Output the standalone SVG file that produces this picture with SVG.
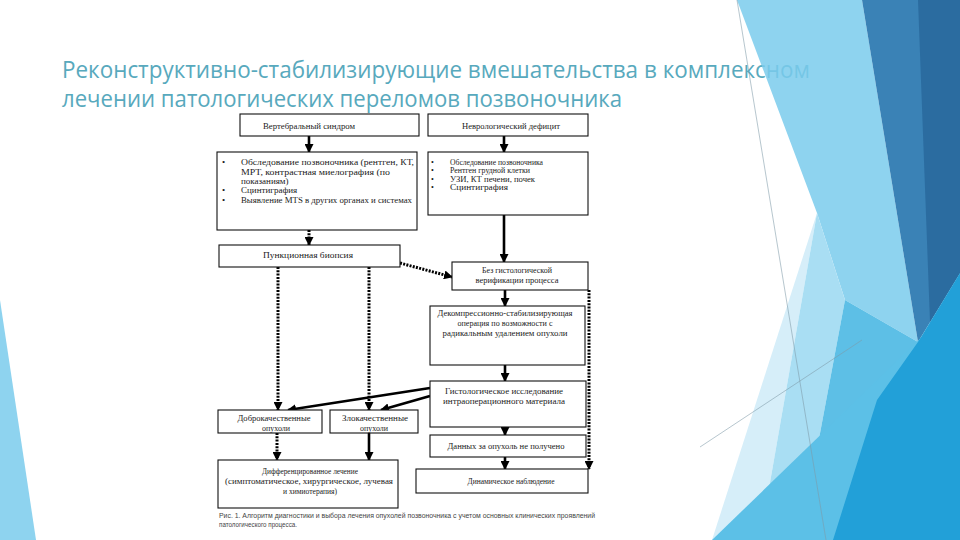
<svg xmlns="http://www.w3.org/2000/svg" width="960" height="540" viewBox="0 0 960 540">
<defs>
<style>
.title{font-family:"Open Sans","Noto Sans",sans-serif;font-size:23px;fill:#58a9bd}
.box{fill:#fff;stroke:#111;stroke-width:1.1}
.t{font-family:"Liberation Serif",serif;font-size:9px;fill:#1a1a1a;text-anchor:middle}
.l{font-family:"Liberation Serif",serif;font-size:9px;fill:#1a1a1a}
.s{fill:none;stroke:#000;stroke-width:2.6}
.d{fill:none;stroke:#000;stroke-width:3;stroke-dasharray:2 1.3}
.cap{font-family:"Liberation Sans",Arial,sans-serif;font-size:7px;fill:#444}
</style>
<marker id="ah" markerWidth="9" markerHeight="9" refX="8" refY="4.5" orient="auto" markerUnits="userSpaceOnUse">
<path d="M0,0 L9,4.5 L0,9 z" fill="#000"/>
</marker>
</defs>
<rect width="960" height="540" fill="#fff"/>
<g id="title">
<text class="title" x="62" y="78" textLength="748" lengthAdjust="spacingAndGlyphs">Реконструктивно-стабилизирующие вмешательства в комплексном</text>
<text class="title" x="62" y="107" textLength="560" lengthAdjust="spacingAndGlyphs">лечении патологических переломов позвоночника</text>
</g>
<g id="background">
<polygon points="0,300 36,540 0,540" fill="#8ed3ef"/>
<polygon points="737,0 862,0 918,342 845,300 817,213" fill="#7acbec" opacity="0.85"/>
<polygon points="817,213 760,540 712,540" fill="#d6eef9"/>
<polygon points="817,213 845,300 800,540 760,540" fill="#a9def3"/>
<polygon points="845,300 918,342 877,400 830,540 800,540" fill="#5dbfe6"/>
<polygon points="862,0 960,0 960,273 918,342" fill="#3a82b6"/>
<polygon points="918,0 960,0 960,273 930,322" fill="#2b6ca0"/>
<polygon points="960,300 960,540 712,540" fill="#5cc0e7"/>
<polygon points="877,400 918,342 960,273 960,540 833,540" fill="#22a0d8"/>
<line x1="737" y1="0" x2="826" y2="540" stroke="#7f9aa8" stroke-width="0.8" opacity="0.7"/>
<line x1="700" y1="447" x2="862" y2="340" stroke="#7f9aa8" stroke-width="0.8" opacity="0.7"/>
</g>
<g id="connectors">
<line class="s" x1="309" y1="136" x2="309" y2="152" marker-end="url(#ah)"/>
<line class="s" x1="504" y1="136" x2="504" y2="152" marker-end="url(#ah)"/>
<line class="d" x1="309" y1="230" x2="309" y2="245" marker-end="url(#ah)"/>
<line class="s" x1="504" y1="215" x2="504" y2="262" marker-end="url(#ah)"/>
<line class="d" x1="400" y1="263" x2="452" y2="277" marker-end="url(#ah)"/>
<line class="d" x1="278" y1="267" x2="278" y2="410" marker-end="url(#ah)"/>
<line class="d" x1="369" y1="267" x2="369" y2="410" marker-end="url(#ah)"/>
<line class="s" x1="505" y1="290" x2="505" y2="306" marker-end="url(#ah)"/>
<line class="d" x1="589" y1="290" x2="589" y2="469" marker-end="url(#ah)"/>
<line class="s" x1="505" y1="365" x2="505" y2="381" marker-end="url(#ah)"/>
<line class="s" x1="430" y1="388" x2="288" y2="410" marker-end="url(#ah)"/>
<line class="s" x1="430" y1="396" x2="381" y2="410" marker-end="url(#ah)"/>
<line class="s" x1="505" y1="427" x2="505" y2="435" marker-end="url(#ah)"/>
<line class="s" x1="505" y1="457" x2="505" y2="469" marker-end="url(#ah)"/>
<line class="d" x1="277" y1="433" x2="277" y2="460" marker-end="url(#ah)"/>
<line class="s" x1="369" y1="433" x2="369" y2="460" marker-end="url(#ah)"/>
</g>
<g id="n-vert">
<rect class="box" x="240" y="114" width="179" height="22"/>
<text class="t" x="309" y="129" textLength="92" lengthAdjust="spacingAndGlyphs">Вертебральный синдром</text>
</g>
<g id="n-nevr">
<rect class="box" x="428" y="114" width="160" height="22"/>
<text class="t" x="511" y="129" textLength="98" lengthAdjust="spacingAndGlyphs">Неврологический дефицит</text>
</g>
<g id="n-list1">
<rect class="box" x="217" y="152" width="200" height="78"/>
<text class="l" x="222" y="165">•</text>
<text class="l" x="241" y="165" textLength="173" lengthAdjust="spacingAndGlyphs">Обследование позвоночника (рентген, КТ,</text>
<text class="l" x="241" y="175" textLength="149" lengthAdjust="spacingAndGlyphs">МРТ, контрастная миелография (по</text>
<text class="l" x="241" y="184">показаниям)</text>
<text class="l" x="222" y="193">•</text>
<text class="l" x="241" y="193">Сцинтиграфия</text>
<text class="l" x="222" y="203">•</text>
<text class="l" x="241" y="203" textLength="171" lengthAdjust="spacingAndGlyphs">Выявление МТS в других органах и системах</text>
</g>
<g id="n-list2">
<rect class="box" x="428" y="152" width="160" height="63"/>
<text class="l" x="431" y="165" style="font-size:8px">•</text>
<text class="l" x="450" y="165" style="font-size:8px" textLength="93" lengthAdjust="spacingAndGlyphs">Обследование позвоночника</text>
<text class="l" x="431" y="173" style="font-size:8px">•</text>
<text class="l" x="450" y="173" style="font-size:8px" textLength="80" lengthAdjust="spacingAndGlyphs">Рентген грудной клетки</text>
<text class="l" x="431" y="182" style="font-size:8px">•</text>
<text class="l" x="450" y="182" style="font-size:8px" textLength="85" lengthAdjust="spacingAndGlyphs">УЗИ, КТ печени, почек</text>
<text class="l" x="431" y="190" style="font-size:8px">•</text>
<text class="l" x="450" y="190" style="font-size:8px" textLength="58" lengthAdjust="spacingAndGlyphs">Сцинтиграфия</text>
</g>
<g id="n-punk">
<rect class="box" x="219" y="245" width="181" height="22"/>
<text class="t" x="308" y="258" textLength="90" lengthAdjust="spacingAndGlyphs">Пункционная биопсия</text>
</g>
<g id="n-bez">
<rect class="box" x="452" y="262" width="136" height="28"/>
<text class="t" x="517" y="273" textLength="70" lengthAdjust="spacingAndGlyphs">Без гистологической</text>
<text class="t" x="517" y="283" textLength="83" lengthAdjust="spacingAndGlyphs">верификации процесса</text>
</g>
<g id="n-dec">
<rect class="box" x="430" y="306" width="155" height="59"/>
<text class="t" x="505" y="316" textLength="135" lengthAdjust="spacingAndGlyphs">Декомпрессионно-стабилизирующая</text>
<text class="t" x="505" y="326" textLength="95" lengthAdjust="spacingAndGlyphs">операция по возможности с</text>
<text class="t" x="505" y="336" textLength="125" lengthAdjust="spacingAndGlyphs">радикальным удалением опухоли</text>
</g>
<g id="n-hist">
<rect class="box" x="430" y="381" width="156" height="46"/>
<text class="t" x="504" y="394" textLength="118" lengthAdjust="spacingAndGlyphs">Гистологическое исследование</text>
<text class="t" x="504" y="404" textLength="122" lengthAdjust="spacingAndGlyphs">интраоперационного материала</text>
</g>
<g id="n-dan">
<rect class="box" x="430" y="435" width="156" height="22"/>
<text class="t" x="506" y="449" textLength="117" lengthAdjust="spacingAndGlyphs">Данных за опухоль не получено</text>
</g>
<g id="n-dyn">
<rect class="box" x="416" y="469" width="172" height="24"/>
<text class="t" x="511" y="484" textLength="87" lengthAdjust="spacingAndGlyphs">Динамическое наблюдение</text>
</g>
<g id="n-dobr">
<rect class="box" x="218" y="410" width="104" height="23"/>
<text class="t" x="274" y="421" textLength="73" lengthAdjust="spacingAndGlyphs">Доброкачественные</text>
<text class="t" x="276" y="431" textLength="28" lengthAdjust="spacingAndGlyphs">опухоли</text>
</g>
<g id="n-zlo">
<rect class="box" x="330" y="410" width="88" height="23"/>
<text class="t" x="375" y="421" textLength="66" lengthAdjust="spacingAndGlyphs">Злокачественные</text>
<text class="t" x="374" y="431" textLength="28" lengthAdjust="spacingAndGlyphs">опухоли</text>
</g>
<g id="n-diff">
<rect class="box" x="218" y="460" width="180" height="48"/>
<text class="t" x="310" y="474" textLength="96" lengthAdjust="spacingAndGlyphs">Дифференцированное лечение</text>
<text class="t" x="309" y="484" textLength="168" lengthAdjust="spacingAndGlyphs">(симптоматическое, хирургическое, лучевая</text>
<text class="t" x="310" y="494" textLength="54" lengthAdjust="spacingAndGlyphs">и химиотерапия)</text>
</g>
<g id="caption">
<text class="cap" x="219" y="518" textLength="376" lengthAdjust="spacingAndGlyphs">Рис. 1. Алгоритм диагностики и выбора лечения опухолей позвоночника с учетом основных клинических проявлений</text>
<text class="cap" x="219" y="527" textLength="78" lengthAdjust="spacingAndGlyphs">патологического процесса.</text>
</g>
</svg>
